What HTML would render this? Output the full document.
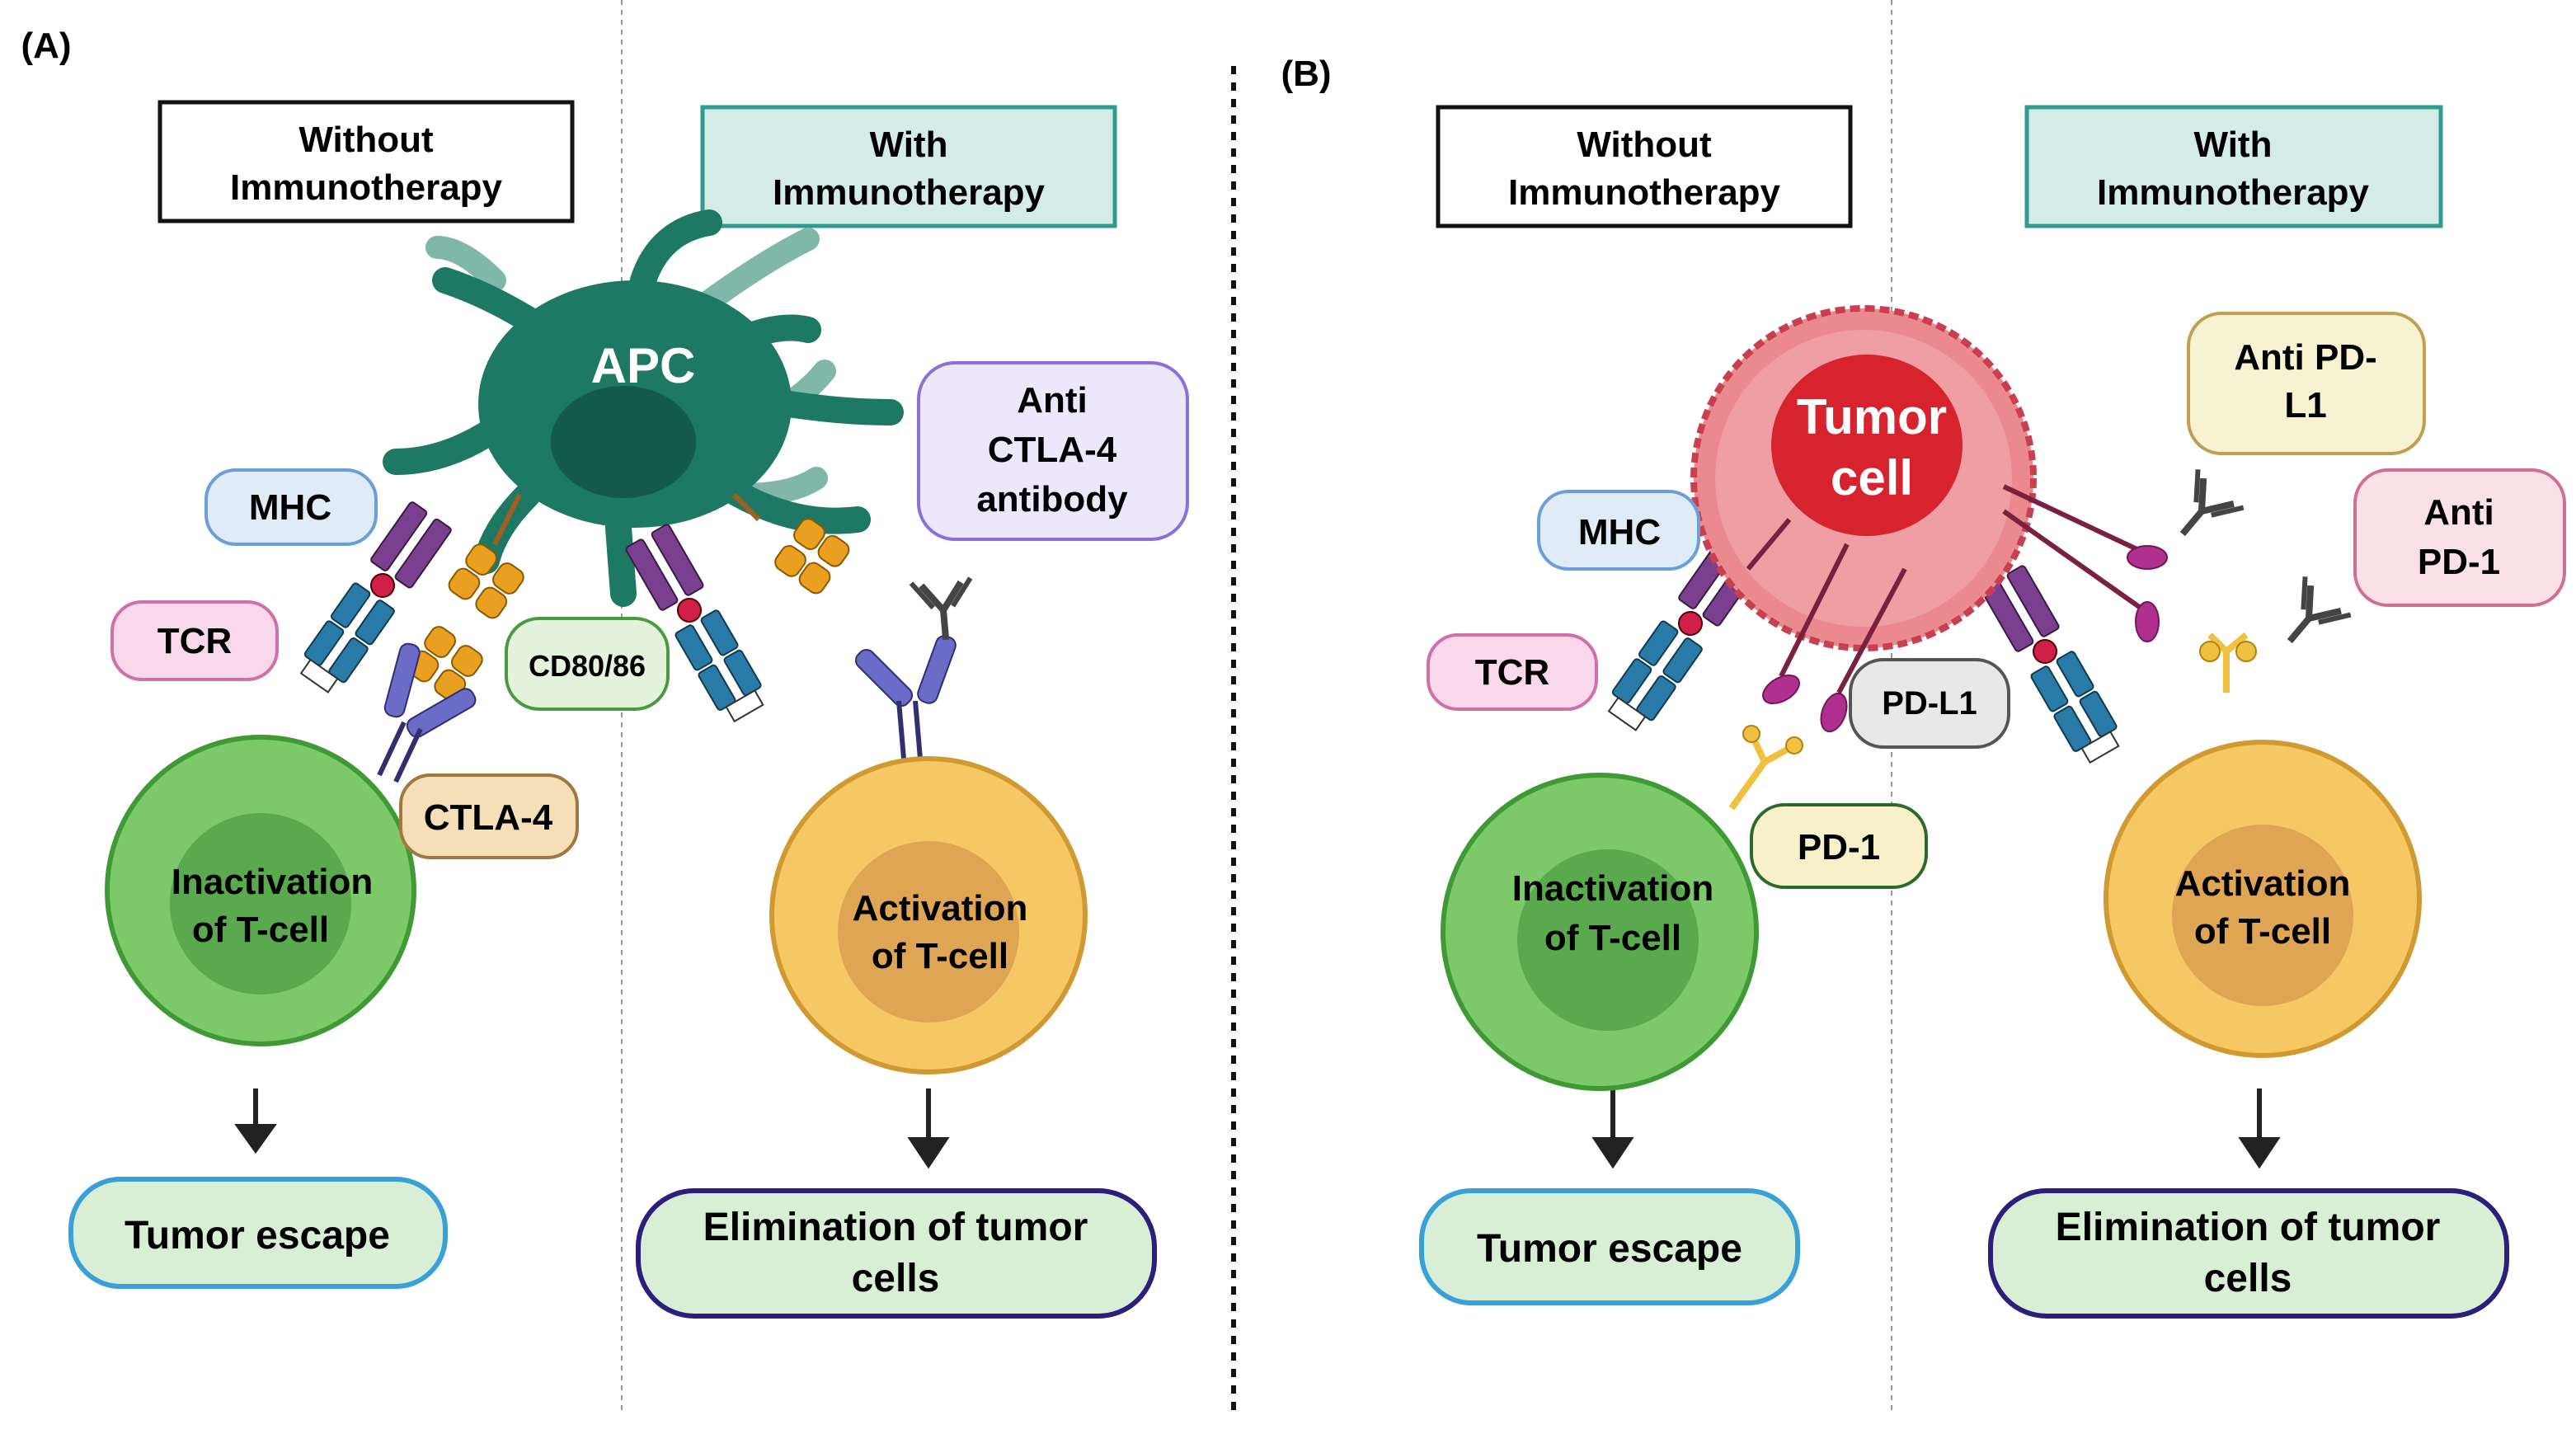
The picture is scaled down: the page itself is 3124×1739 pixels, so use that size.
<!DOCTYPE html>
<html><head><meta charset="utf-8"><style>
html,body{margin:0;padding:0;background:#fff}
svg{display:block}
text{font-family:"Liberation Sans",Arial,sans-serif;font-weight:bold;text-anchor:middle}
</style></head><body>
<svg width="3124" height="1739" viewBox="0 0 1562 869.5" xmlns="http://www.w3.org/2000/svg">
<defs>
<g id="cx">
 <rect x="-15" y="-52" width="12" height="44" rx="2" fill="#7b3f8f" stroke="#3a1a45"/>
 <rect x="3" y="-52" width="12" height="44" rx="2" fill="#7b3f8f" stroke="#3a1a45"/>
 <rect x="-15" y="8" width="12" height="26" rx="2" fill="#2a7aa8" stroke="#103a50"/>
 <rect x="3" y="8" width="12" height="26" rx="2" fill="#2a7aa8" stroke="#103a50"/>
 <rect x="-15" y="36" width="12" height="26" rx="2" fill="#2a7aa8" stroke="#103a50"/>
 <rect x="3" y="36" width="12" height="26" rx="2" fill="#2a7aa8" stroke="#103a50"/>
 <rect x="-10" y="62" width="20" height="10" fill="#fff" stroke="#333"/>
 <circle cx="0" cy="0" r="7" fill="#d0204a" stroke="#500"/>
</g>
<g id="ab" fill="none" stroke="#444" stroke-width="4">
 <path d="M0 0 L0 18 M0 0 L-12 -16 M0 0 L12 -16"/>
 <path d="M-6 -2 L-18 -18 M6 -2 L18 -18" stroke-width="3"/>
</g>
<g id="orange">
 <rect x="-18" y="-8" width="16" height="16" rx="5" fill="#e9a020" stroke="#8a5a00"/>
 <rect x="2" y="-8" width="16" height="16" rx="5" fill="#e9a020" stroke="#8a5a00"/>
 <rect x="-18" y="10" width="16" height="16" rx="5" fill="#e9a020" stroke="#8a5a00"/>
 <rect x="2" y="10" width="16" height="16" rx="5" fill="#e9a020" stroke="#8a5a00"/>
</g>
</defs>

<text x="28" y="35" font-size="22">(A)</text>
<text x="792" y="52" font-size="22">(B)</text>
<line x1="748" y1="40" x2="748" y2="860" stroke="#111" stroke-width="3" stroke-dasharray="5,5"/>
<line x1="377" y1="0" x2="377" y2="855" stroke="#999" stroke-width="1" stroke-dasharray="3,3"/>
<line x1="1147" y1="0" x2="1147" y2="855" stroke="#999" stroke-width="1" stroke-dasharray="3,3"/>

<!-- header boxes -->
<rect x="97" y="62" width="250" height="72" fill="#fff" stroke="#111" stroke-width="2.5"/>
<text x="222" y="92" font-size="22">Without</text><text x="222" y="121" font-size="22">Immunotherapy</text>
<rect x="426" y="65" width="250" height="72" fill="#d3ece8" stroke="#2f9b8e" stroke-width="2.5"/>
<text x="551" y="95" font-size="22">With</text><text x="551" y="124" font-size="22">Immunotherapy</text>
<rect x="872" y="65" width="250" height="72" fill="#fff" stroke="#111" stroke-width="2.5"/>
<text x="997" y="95" font-size="22">Without</text><text x="997" y="124" font-size="22">Immunotherapy</text>
<rect x="1229" y="65" width="251" height="72" fill="#d3ece8" stroke="#2f9b8e" stroke-width="2.5"/>
<text x="1354" y="95" font-size="22">With</text><text x="1354" y="124" font-size="22">Immunotherapy</text>

<!-- APC -->
<g stroke="#7fb8a8" stroke-width="14" stroke-linecap="round" fill="none">
<path d="M420 190 Q460 160 490 145"/><path d="M440 260 Q480 250 500 225"/><path d="M300 170 Q280 150 265 150"/><path d="M450 300 Q480 300 495 290"/>
</g>
<g stroke="#1d7864" stroke-width="16" stroke-linecap="round" fill="none">
<path d="M330 200 Q300 180 270 170"/><path d="M390 170 Q400 140 430 135"/><path d="M440 210 Q470 195 490 200"/>
<path d="M300 260 Q270 280 240 280"/><path d="M320 300 Q300 320 295 340"/><path d="M375 320 L378 360"/>
<path d="M440 295 Q480 320 520 315"/><path d="M450 240 Q500 250 540 250"/>
</g>
<ellipse cx="385" cy="245" rx="95" ry="75" fill="#1d7864"/>
<ellipse cx="378" cy="268" rx="44" ry="34" fill="#145a4a"/>
<text x="390" y="232" font-size="30" fill="#fff">APC</text>

<!-- A left receptors -->
<use href="#cx" transform="translate(232,355) rotate(35)"/>
<use href="#orange" transform="translate(275,395) rotate(35)"/>
<use href="#orange" transform="translate(300,345) rotate(35)"/>
<line x1="300" y1="330" x2="315" y2="300" stroke="#a06020" stroke-width="3"/>
<g fill="#6b6bc8" stroke="#303070">
<rect x="238" y="390" width="12" height="45" rx="5" transform="rotate(15 244 412)"/>
<rect x="262" y="410" width="12" height="45" rx="5" transform="rotate(60 268 432)"/>
</g>
<path d="M245 438 L230 470 M255 442 L240 474" stroke="#303070" stroke-width="3"/>
<!-- A right receptors -->
<use href="#cx" transform="translate(418,370) rotate(-30)"/>
<use href="#orange" transform="translate(485,332) rotate(-55)"/>
<line x1="460" y1="315" x2="445" y2="300" stroke="#a06020" stroke-width="3"/>
<g fill="#6b6bc8" stroke="#303070">
<rect x="530" y="390" width="12" height="42" rx="5" transform="rotate(-45 536 411)"/>
<rect x="562" y="385" width="12" height="42" rx="5" transform="rotate(20 568 406)"/>
</g>
<path d="M545 425 L548 460 M555 425 L558 460" stroke="#303070" stroke-width="3"/>
<use href="#ab" transform="translate(572,370) rotate(-5)"/>

<!-- A cells -->
<circle cx="158" cy="540" r="93" fill="#7cc86a" stroke="#3f9a35" stroke-width="3"/>
<circle cx="158" cy="548" r="55" fill="#5aa94f"/>
<text x="165" y="542" font-size="22">Inactivation</text><text x="158" y="571" font-size="22">of T-cell</text>
<circle cx="563" cy="555" r="95" fill="#f6c865" stroke="#d09a30" stroke-width="3"/>
<circle cx="563" cy="565" r="55" fill="#dea555"/>
<text x="570" y="558" font-size="22">Activation</text><text x="570" y="587" font-size="22">of T-cell</text>

<!-- A labels -->
<rect x="125" y="285" width="103" height="45" rx="18" fill="#e0ebf8" stroke="#6a9fd8" stroke-width="2"/><text x="176" y="315" font-size="22">MHC</text>
<rect x="68" y="365" width="100" height="47" rx="18" fill="#f8d8ea" stroke="#d070a8" stroke-width="2"/><text x="118" y="396" font-size="22">TCR</text>
<rect x="307" y="375" width="98" height="55" rx="20" fill="#e3f3dc" stroke="#4a9a40" stroke-width="2"/><text x="356" y="410" font-size="18">CD80/86</text>
<rect x="243" y="470" width="107" height="50" rx="18" fill="#f5dfb8" stroke="#a07840" stroke-width="2"/><text x="296" y="503" font-size="22">CTLA-4</text>
<rect x="557" y="220" width="163" height="107" rx="22" fill="#ede7fb" stroke="#8a70d8" stroke-width="2"/>
<text x="638" y="250" font-size="22">Anti</text><text x="638" y="280" font-size="22">CTLA-4</text><text x="638" y="310" font-size="22">antibody</text>

<!-- arrows -->
<g stroke="#222" stroke-width="3" fill="#222">
<line x1="155" y1="660" x2="155" y2="685"/><path d="M145 683 L165 683 L155 697Z"/>
<line x1="563" y1="660" x2="563" y2="693"/><path d="M553 691 L573 691 L563 706Z"/>
<line x1="978" y1="660" x2="978" y2="693"/><path d="M968 691 L988 691 L978 706Z"/>
<line x1="1370" y1="660" x2="1370" y2="693"/><path d="M1360 691 L1380 691 L1370 706Z"/>
</g>

<!-- outputs -->
<rect x="43" y="715" width="227" height="65" rx="30" fill="#d8efd5" stroke="#3aa0d8" stroke-width="3"/><text x="156" y="757" font-size="24">Tumor escape</text>
<rect x="387" y="722" width="313" height="76" rx="34" fill="#d8efd5" stroke="#2a1f7a" stroke-width="3"/>
<text x="543" y="752" font-size="24">Elimination of tumor</text><text x="543" y="783" font-size="24">cells</text>
<rect x="862" y="722" width="228" height="68" rx="30" fill="#d8efd5" stroke="#3aa0d8" stroke-width="3"/><text x="976" y="765" font-size="24">Tumor escape</text>
<rect x="1207" y="722" width="313" height="76" rx="34" fill="#d8efd5" stroke="#2a1f7a" stroke-width="3"/>
<text x="1363" y="752" font-size="24">Elimination of tumor</text><text x="1363" y="783" font-size="24">cells</text>

<!-- B receptors -->
<use href="#cx" transform="translate(1025,378) rotate(35)"/>
<use href="#cx" transform="translate(1240,395) rotate(-30)"/>
<!-- B cells -->
<circle cx="970" cy="565" r="95" fill="#7cc86a" stroke="#3f9a35" stroke-width="3"/>
<circle cx="975" cy="570" r="55" fill="#5aa94f"/>
<text x="978" y="546" font-size="22">Inactivation</text><text x="978" y="576" font-size="22">of T-cell</text>
<circle cx="1372" cy="545" r="95" fill="#f6c865" stroke="#d09a30" stroke-width="3"/>
<circle cx="1372" cy="555" r="55" fill="#dea555"/>
<text x="1372" y="543" font-size="22">Activation</text><text x="1372" y="572" font-size="22">of T-cell</text>

<!-- Tumor -->
<circle cx="1130" cy="290" r="103" fill="#ea8a8e" stroke="#c84050" stroke-width="4" stroke-dasharray="6,3"/>
<circle cx="1130" cy="290" r="90" fill="#ef9fa2"/>
<ellipse cx="1132" cy="270" rx="58" ry="55" fill="#d6232e"/>
<text x="1135" y="263" font-size="30" fill="#fff">Tumor</text><text x="1135" y="300" font-size="30" fill="#fff">cell</text>
<g stroke="#7a2040" stroke-width="3">
<line x1="1085" y1="315" x2="1060" y2="345"/><line x1="1120" y1="330" x2="1080" y2="410"/><line x1="1155" y1="345" x2="1115" y2="420"/>
<line x1="1215" y1="295" x2="1300" y2="335"/><line x1="1215" y1="310" x2="1300" y2="370"/>
</g>
<g fill="#b03090" stroke="#701858">
<ellipse cx="1080" cy="418" rx="12" ry="7" transform="rotate(-30 1080 418)"/>
<ellipse cx="1112" cy="432" rx="12" ry="7" transform="rotate(-70 1112 432)"/>
<ellipse cx="1302" cy="338" rx="12" ry="7"/>
<ellipse cx="1302" cy="377" rx="7" ry="12"/>
</g>
<g fill="none" stroke="#f0c040" stroke-width="4">
<path d="M1050 490 L1070 462 M1070 462 L1062 445 M1070 462 L1088 452"/>
<path d="M1350 420 L1350 395 M1350 395 L1340 385 M1350 395 L1362 385"/>
</g>
<g fill="#f0c040" stroke="#b08010"><circle cx="1340" cy="395" r="6"/><circle cx="1362" cy="395" r="6"/><circle cx="1062" cy="445" r="5"/><circle cx="1088" cy="452" r="5"/></g>
<use href="#ab" transform="translate(1335,310) rotate(40)"/>
<use href="#ab" transform="translate(1400,375) rotate(40)"/>

<!-- B labels -->
<rect x="933" y="298" width="97" height="47" rx="18" fill="#e0ebf8" stroke="#6a9fd8" stroke-width="2"/><text x="982" y="330" font-size="22">MHC</text>
<rect x="866" y="385" width="102" height="45" rx="18" fill="#f8d8ea" stroke="#d070a8" stroke-width="2"/><text x="917" y="415" font-size="22">TCR</text>
<rect x="1122" y="400" width="96" height="53" rx="20" fill="#e8e8e8" stroke="#555" stroke-width="2"/><text x="1170" y="433" font-size="20">PD-L1</text>
<rect x="1062" y="488" width="106" height="50" rx="20" fill="#f7f0c8" stroke="#2a6a2a" stroke-width="2"/><text x="1115" y="521" font-size="22">PD-1</text>
<rect x="1327" y="190" width="143" height="85" rx="20" fill="#f8f2d2" stroke="#c0a050" stroke-width="2"/><text x="1398" y="224" font-size="22">Anti PD-</text><text x="1398" y="253" font-size="22">L1</text>
<rect x="1428" y="285" width="127" height="82" rx="20" fill="#fbe0e8" stroke="#d07090" stroke-width="2"/><text x="1491" y="318" font-size="22">Anti</text><text x="1491" y="348" font-size="22">PD-1</text>
</svg>
</body></html>
